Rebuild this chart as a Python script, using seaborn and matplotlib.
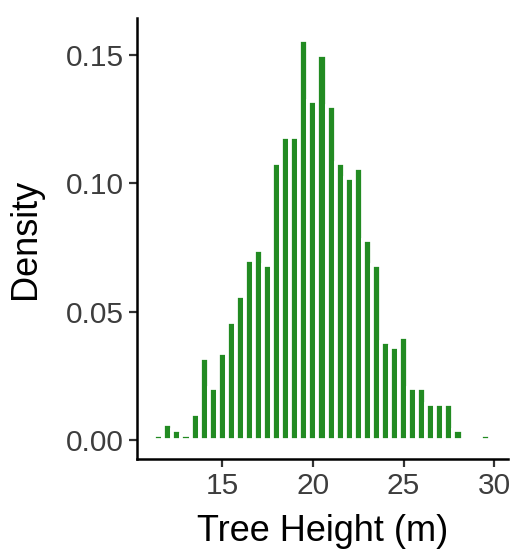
import numpy as np
import seaborn as sns
import matplotlib.pyplot as plt

# histogram bins (0.5 m wide) and their densities
bin_centers = [11.5, 12.0, 12.5, 13.0, 13.5, 14.0, 14.5, 15.0, 15.5, 16.0,
               16.5, 17.0, 17.5, 18.0, 18.5, 19.0, 19.5, 20.0, 20.5, 21.0,
               21.5, 22.0, 22.5, 23.0, 23.5, 24.0, 24.5, 25.0, 25.5, 26.0,
               26.5, 27.0, 27.5, 28.0, 28.5, 29.0, 29.5]
density = [0.002, 0.006, 0.004, 0.002, 0.010, 0.032, 0.020, 0.034, 0.046, 0.056,
           0.070, 0.074, 0.068, 0.108, 0.118, 0.118, 0.156, 0.132, 0.150, 0.130,
           0.108, 0.102, 0.106, 0.078, 0.068, 0.038, 0.036, 0.040, 0.020, 0.020,
           0.014, 0.014, 0.014, 0.004, 0.0, 0.0, 0.002]
bin_edges = [c - 0.25 for c in bin_centers] + [bin_centers[-1] + 0.25]
x_ticks = [15, 20, 25, 30]
y_ticks = [0.00, 0.05, 0.10, 0.15]

sns.set_theme(style="ticks")
plt.rcParams['font.family'] = ['Liberation Sans', 'DejaVu Sans']

fig = plt.figure(figsize=(5.18, 5.53), dpi=100)
ax = fig.add_axes([0.2645, 0.170, 0.716, 0.7975])

sns.histplot(x=bin_centers, weights=density, bins=bin_edges, ax=ax,
             color="#228B22", edgecolor="white", linewidth=2.7, alpha=1)

ax.set_xlim(10.3, 30.75)
ax.set_ylim(-0.0075, 0.1645)
ax.set_xticks(x_ticks)
ax.set_yticks(y_ticks)
ax.set_yticklabels([f"{v:.2f}" for v in y_ticks])
ax.set_xlabel("Tree Height (m)", fontsize=26, color="black", labelpad=10)
ax.set_ylabel("Density", fontsize=26, color="black", labelpad=16)
ax.tick_params(axis="both", labelsize=21.5, labelcolor="#3D3D3D",
               length=5.5, width=1.6, color="#333333", pad=4)
sns.despine(ax=ax)
for s in ["left", "bottom"]:
    ax.spines[s].set_linewidth(1.8)
    ax.spines[s].set_color("black")

fig.savefig("out.png", dpi=100)
